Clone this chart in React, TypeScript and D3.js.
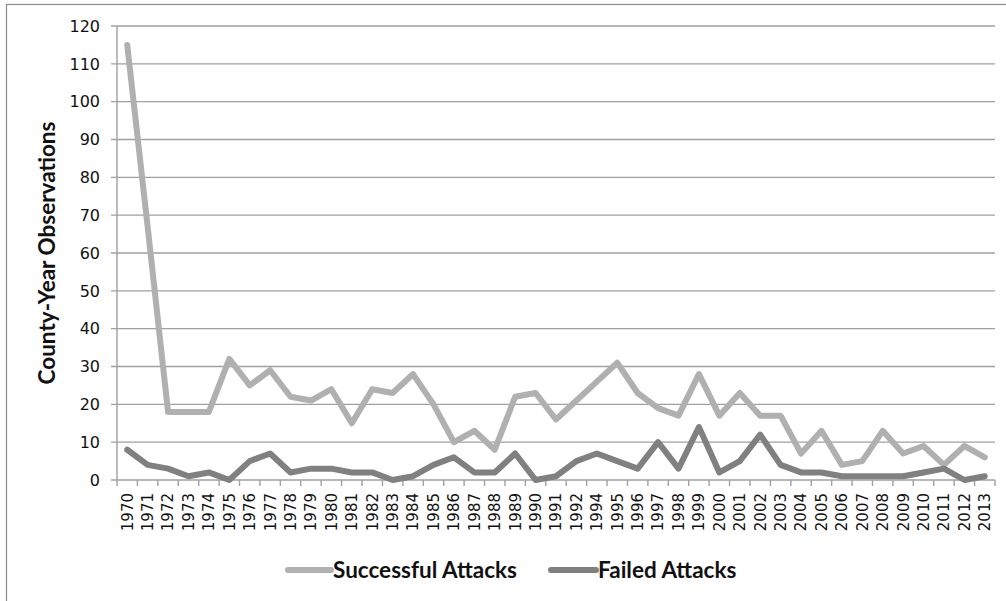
import { useEffect, useRef } from "react";
import * as d3 from "d3";

// 1993 is absent from the source chart's category axis
const years = [
  "1970", "1971", "1972", "1973", "1974", "1975", "1976", "1977", "1978", "1979",
  "1980", "1981", "1982", "1983", "1984", "1985", "1986", "1987", "1988", "1989",
  "1990", "1991", "1992", "1994", "1995", "1996", "1997", "1998", "1999", "2000",
  "2001", "2002", "2003", "2004", "2005", "2006", "2007", "2008", "2009", "2010",
  "2011", "2012", "2013",
];

const successful = [
  115, 67, 18, 18, 18, 32, 25, 29, 22, 21,
  24, 15, 24, 23, 28, 20, 10, 13, 8, 22,
  23, 16, 21, 26, 31, 23, 19, 17, 28, 17,
  23, 17, 17, 7, 13, 4, 5, 13, 7, 9,
  4, 9, 6,
];

const failed = [
  8, 4, 3, 1, 2, 0, 5, 7, 2, 3,
  3, 2, 2, 0, 1, 4, 6, 2, 2, 7,
  0, 1, 5, 7, 5, 3, 10, 3, 14, 2,
  5, 12, 4, 2, 2, 1, 1, 1, 1, 2,
  3, 0, 1,
];

const yTicks = [0, 10, 20, 30, 40, 50, 60, 70, 80, 90, 100, 110, 120];

const SERIES = [
  { label: "Successful Attacks", values: successful, color: "#b0b0b0" },
  { label: "Failed Attacks", values: failed, color: "#808080" },
];

const W = 1006;
const H = 601;
const PLOT = { left: 117, right: 995, top: 26, bottom: 480 };
const GRID = "#a0a0a0";
const TEXT = "#111";
const TICK_FONT = "DejaVu Sans, sans-serif";
const TITLE_FONT = "Lato, sans-serif";

export default function App() {
  const svgRef = useRef<SVGSVGElement>(null);

  useEffect(() => {
    const svg = d3.select(svgRef.current);
    svg.selectAll("*").remove();

    // outer frame, runs off the right and bottom edges
    svg.append("rect")
      .attr("x", 6.5)
      .attr("y", 4.5)
      .attr("width", W + 10)
      .attr("height", H + 10)
      .attr("fill", "#fff")
      .attr("stroke", "#8c8c8c")
      .attr("stroke-width", 1.2);

    const x = d3.scaleBand<string>().domain(years).range([PLOT.left, PLOT.right]);
    const y = d3.scaleLinear().domain([0, 120]).range([PLOT.bottom, PLOT.top]);

    // horizontal gridlines + left tick marks
    const grid = svg.append("g");
    grid.selectAll("line")
      .data(yTicks)
      .enter()
      .append("line")
      .attr("x1", PLOT.left - 6)
      .attr("x2", PLOT.right)
      .attr("y1", (d) => y(d))
      .attr("y2", (d) => y(d))
      .attr("stroke", GRID)
      .attr("stroke-width", 1.4);

    svg.append("line")
      .attr("x1", PLOT.left)
      .attr("x2", PLOT.left)
      .attr("y1", PLOT.top)
      .attr("y2", PLOT.bottom)
      .attr("stroke", GRID)
      .attr("stroke-width", 1.4);

    // y tick labels
    svg.append("g")
      .selectAll("text")
      .data(yTicks)
      .enter()
      .append("text")
      .attr("x", 100)
      .attr("y", (d) => y(d))
      .attr("dy", "0.36em")
      .attr("text-anchor", "end")
      .attr("font-family", TICK_FONT)
      .attr("font-size", 16)
      .attr("fill", TEXT)
      .text((d) => d);

    // category boundary ticks under the axis
    const bounds = years.map((d) => x(d) as number).concat([PLOT.right]);
    svg.append("g")
      .selectAll("line")
      .data(bounds)
      .enter()
      .append("line")
      .attr("x1", (d) => d)
      .attr("x2", (d) => d)
      .attr("y1", PLOT.bottom)
      .attr("y2", PLOT.bottom + 6)
      .attr("stroke", GRID)
      .attr("stroke-width", 1.4);

    // rotated year labels
    svg.append("g")
      .selectAll("text")
      .data(years)
      .enter()
      .append("text")
      .attr("transform", (d) => `translate(${(x(d) as number) + x.bandwidth() / 2},493) rotate(-90)`)
      .attr("dy", "0.36em")
      .attr("text-anchor", "end")
      .attr("font-family", TICK_FONT)
      .attr("font-size", 15)
      .attr("fill", TEXT)
      .text((d) => d);

    // axis title
    svg.append("text")
      .attr("transform", `translate(47,${(PLOT.top + PLOT.bottom) / 2}) rotate(-90)`)
      .attr("dy", "0.36em")
      .attr("text-anchor", "middle")
      .attr("font-family", TITLE_FONT)
      .attr("font-weight", "bold")
      .attr("font-size", 22.5)
      .attr("fill", TEXT)
      .text("County-Year Observations");

    const line = d3
      .line<number>()
      .x((_, i) => (x(years[i]) as number) + x.bandwidth() / 2)
      .y((d) => y(d));

    SERIES.forEach((s) => {
      svg.append("path")
        .datum(s.values)
        .attr("fill", "none")
        .attr("stroke", s.color)
        .attr("stroke-width", 6)
        .attr("stroke-linejoin", "round")
        .attr("stroke-linecap", "round")
        .attr("d", line);
    });

    // legend
    const legendPos = [
      { x1: 288, x2: 331 },
      { x1: 551, x2: 596 },
    ];
    SERIES.forEach((s, i) => {
      const p = legendPos[i];
      svg.append("line")
        .attr("x1", p.x1)
        .attr("x2", p.x2)
        .attr("y1", 570)
        .attr("y2", 570)
        .attr("stroke", s.color)
        .attr("stroke-width", 6)
        .attr("stroke-linecap", "round");
      svg.append("text")
        .attr("x", p.x2 + 2)
        .attr("y", 570)
        .attr("dy", "0.36em")
        .attr("font-family", TITLE_FONT)
        .attr("font-weight", "bold")
        .attr("font-size", 22.5)
        .attr("fill", TEXT)
        .text(s.label);
    });
  }, []);

  return (
    <svg
      ref={svgRef}
      width={W}
      height={H}
      style={{ position: "absolute", left: 0, top: 0, display: "block" }}
    />
  );
}
